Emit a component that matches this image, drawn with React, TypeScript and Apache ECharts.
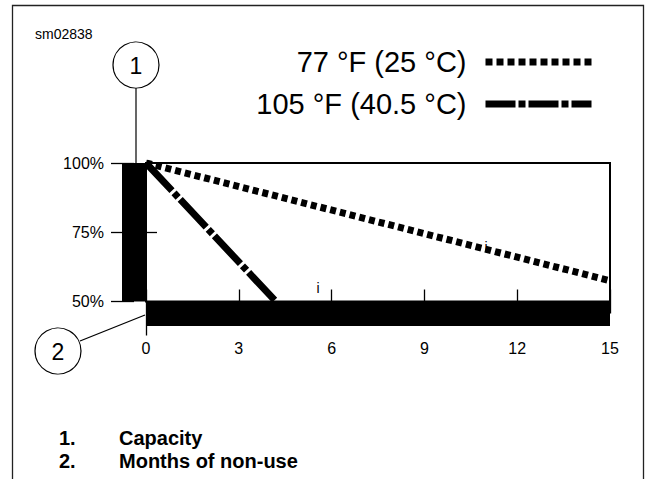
import React, { useEffect, useRef } from "react";
import * as echarts from "echarts";

// ---- data ----
const seriesNames = ["77 °F (25 °C)", "105 °F (40.5 °C)"];
const warmMonths = [0, 15];
const warmCapacity = [100, 57.5];
const hotMonths = [0, 4.2];
const hotCapacity = [100, 50];
const xTicks = [0, 3, 6, 9, 12, 15];
const yTicks = [50, 75, 100];
const footnoteNumbers = ["1.", "2."];
const footnoteLabels = ["Capacity", "Months of non-use"];
const figureId = "sm02838";

const FONT = "'Liberation Sans', Arial, Helvetica, sans-serif";

export default function App() {
  const ref = useRef<HTMLDivElement>(null);
  useEffect(() => {
    if (!ref.current) return;
    const chart = echarts.init(ref.current, undefined, { renderer: "svg" });
    const warmData = warmMonths.map((m, i) => [m, warmCapacity[i]]);
    const hotData = hotMonths.map((m, i) => [m, hotCapacity[i]]);
    const warmDash = [6, 4];
    const hotDash = [38, 3, 6, 3];

    const option: any = {
      animation: false,
      backgroundColor: "#fff",
      textStyle: { fontFamily: FONT },
      grid: {
        left: 146,
        top: 163,
        width: 464,
        height: 138.5,
        show: true,
        borderColor: "#000",
        borderWidth: 2,
        backgroundColor: "transparent",
        containLabel: false,
      },
      legend: {
        orient: "vertical",
        align: "right",
        right: 55,
        top: 42,
        padding: 0,
        itemGap: 2,
        itemWidth: 106,
        itemHeight: 14,
        selectedMode: false,
        itemStyle: { color: "rgba(0,0,0,0)", borderWidth: 0, opacity: 0 },
        textStyle: {
          fontFamily: FONT,
          fontSize: 29,
          color: "#000",
          padding: [0, 14, 10, 0],
          lineHeight: 30,
        },
        data: [
          {
            name: seriesNames[0],
            lineStyle: { color: "#000", width: 7, type: [7, 4], cap: "butt" },
          },
          {
            name: seriesNames[1],
            lineStyle: { color: "#000", width: 7, type: [30, 3, 7, 3], cap: "butt" },
          },
        ],
      },
      xAxis: [
        {
          type: "value",
          position: "bottom",
          min: xTicks[0],
          max: xTicks[xTicks.length - 1],
          interval: 3,
          offset: 12,
          axisLine: { show: true, onZero: false, lineStyle: { color: "#000", width: 24, cap: "butt" } },
          axisTick: { show: true, inside: true, length: 24, lineStyle: { color: "#000", width: 1.3 } },
          axisLabel: { margin: 27, fontSize: 16, color: "#000", fontFamily: FONT },
          splitLine: { show: false },
        },
        {
          type: "value",
          position: "bottom",
          min: xTicks[0],
          max: xTicks[xTicks.length - 1],
          interval: 3,
          offset: 12,
          axisLine: { show: false, onZero: false },
          axisTick: { show: true, customValues: [xTicks[0]], length: 22, lineStyle: { color: "#000", width: 1.3 } },
          axisLabel: { show: false },
          splitLine: { show: false },
        },
      ],
      yAxis: [
        {
          type: "value",
          position: "left",
          min: yTicks[0],
          max: yTicks[yTicks.length - 1],
          interval: 25,
          offset: 12,
          axisLine: { show: true, onZero: false, lineStyle: { color: "#000", width: 24, cap: "butt" } },
          axisTick: { show: true, length: 23, lineStyle: { color: "#000", width: 1.3 } },
          axisLabel: { margin: 30, fontSize: 16, color: "#000", fontFamily: FONT, formatter: "{value}%" },
          splitLine: { show: false },
        },
        {
          type: "value",
          position: "left",
          min: yTicks[0],
          max: yTicks[yTicks.length - 1],
          interval: 25,
          offset: 12,
          axisLine: { show: false, onZero: false },
          axisTick: { show: true, inside: true, customValues: [yTicks[1]], length: 23, lineStyle: { color: "#000", width: 1.3 } },
          axisLabel: { show: false },
          splitLine: { show: false },
        },
      ],
      series: [
        {
          name: seriesNames[0],
          type: "line",
          xAxisIndex: 0,
          yAxisIndex: 0,
          symbol: "none",
          data: warmData,
          lineStyle: { color: "#000", width: 7, type: warmDash, cap: "butt" },
          z: 5,
        },
        {
          name: seriesNames[1],
          type: "line",
          xAxisIndex: 0,
          yAxisIndex: 0,
          symbol: "none",
          data: hotData,
          lineStyle: { color: "#000", width: 7, type: hotDash, cap: "butt" },
          z: 5,
        },
      ],
      graphic: [
        {
          type: "rect",
          shape: { x: 12.5, y: 5.5, width: 631, height: 520 },
          style: { fill: "none", stroke: "#222", lineWidth: 1.3 },
          silent: true,
          z: 0,
        },
        {
          type: "text",
          x: 35,
          y: 34,
          style: { text: figureId, fontSize: 14, fontFamily: FONT, fill: "#000", verticalAlign: "middle" },
        },
        {
          type: "line",
          shape: { x1: 136, y1: 88, x2: 136, y2: 163 },
          style: { stroke: "#000", lineWidth: 1.2 },
        },
        {
          type: "circle",
          shape: { cx: 136, cy: 65, r: 23 },
          style: { fill: "#fff", stroke: "#000", lineWidth: 1.2 },
        },
        {
          type: "text",
          x: 136,
          y: 66,
          style: { text: "1", fontSize: 23, fontFamily: FONT, fill: "#000", align: "center", verticalAlign: "middle" },
        },
        {
          type: "line",
          shape: { x1: 80, y1: 341, x2: 145, y2: 315 },
          style: { stroke: "#000", lineWidth: 1.2 },
        },
        {
          type: "circle",
          shape: { cx: 58, cy: 351, r: 23 },
          style: { fill: "#fff", stroke: "#000", lineWidth: 1.2 },
        },
        {
          type: "text",
          x: 58,
          y: 352,
          style: { text: "2", fontSize: 23, fontFamily: FONT, fill: "#000", align: "center", verticalAlign: "middle" },
        },
        {
          type: "text",
          x: 318,
          y: 288,
          style: { text: "i", fontSize: 14, fontFamily: FONT, fill: "#000", align: "center", verticalAlign: "middle" },
        },
        {
          type: "text",
          x: 486,
          y: 247,
          style: { text: "i", fontSize: 14, fontFamily: FONT, fill: "#000", align: "center", verticalAlign: "middle" },
        },
        {
          type: "text",
          x: 59,
          y: 426.5,
          style: {
            text: footnoteNumbers.join("\n"),
            fontSize: 20,
            lineHeight: 23,
            fontWeight: "bold",
            fontFamily: FONT,
            fill: "#000",
            verticalAlign: "top",
          },
        },
        {
          type: "text",
          x: 119,
          y: 426.5,
          style: {
            text: footnoteLabels.join("\n"),
            fontSize: 20,
            lineHeight: 23,
            fontWeight: "bold",
            fontFamily: FONT,
            fill: "#000",
            verticalAlign: "top",
          },
        },
      ],
    };
    chart.setOption(option);
    return () => chart.dispose();
  }, []);
  return (
    <div
      ref={ref}
      style={{ position: "absolute", left: 0, top: 0, width: 650, height: 479, background: "#fff" }}
    />
  );
}
